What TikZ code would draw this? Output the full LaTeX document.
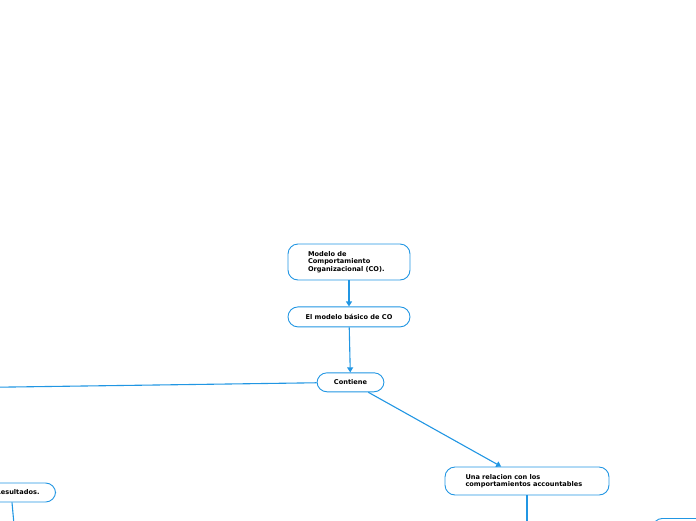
\documentclass[tikz,border=0pt]{standalone}
\usepackage{fontspec}
\setmainfont{DejaVu Sans}
\usetikzlibrary{arrows.meta,positioning}
\definecolor{mapblue}{HTML}{2196E3}

\begin{document}
\begin{tikzpicture}[
  x=1pt, y=-1pt,
  font=\fontsize{6.6}{7.6}\selectfont\bfseries,
  topic/.style={draw=mapblue, line width=0.9pt, rounded corners=10pt, fill=white, inner sep=0pt, align=left},
  link/.style={draw=mapblue, line width=1.1pt},
  flow/.style={link, -{Triangle[width=6pt,length=5pt]}}
]
\useasboundingbox (0,0) rectangle (696,520);
\node[topic, minimum width=122pt, minimum height=36pt, text width=82pt] (modelo) at (349,262) {Modelo de\\Comportamiento\\Organizacional (CO).};
\node[topic, minimum width=122pt, minimum height=20pt, align=center, below=26pt of modelo] (basico) {El modelo básico de CO};
\node[topic, minimum width=67pt, minimum height=19pt, align=center, below=45pt of basico, xshift=1.5pt] (contiene) {Contiene};
\node[topic, minimum width=164pt, minimum height=28pt, text width=123pt] (relacion) at (527,481) {Una relacion con los\\comportamientos accountables};
\node[topic, minimum height=19pt, inner xsep=16pt, anchor=east] (resultados) at (56,492.5) {Resultados.};
\node[topic, minimum width=110pt, minimum height=24pt, anchor=north west] (siguiente) at (652,518) {};
\coordinate (izq) at (-10,387.3);
\coordinate (abajoD) at (527,530);
\coordinate (abajoE) at (14.5,530);

\draw[flow] (modelo) -- (basico);
\draw[flow] (basico) -- (contiene);
\draw[link] (contiene) -- (izq);
\draw[flow] (contiene) -- (relacion);
\draw[link] (relacion) -- (abajoD);
\draw[link] ([xshift=-44pt]resultados.south east) -- (abajoE);
\end{tikzpicture}
\end{document}
